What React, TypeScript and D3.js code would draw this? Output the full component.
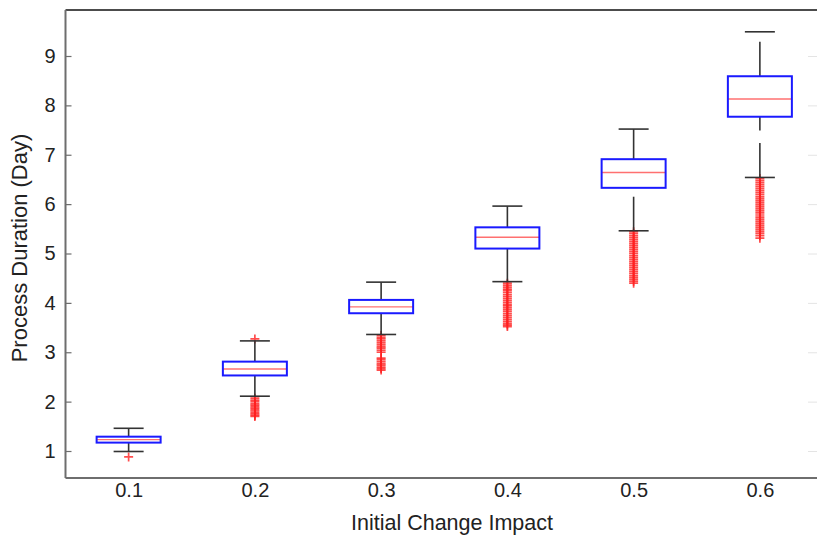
import React, { useEffect, useRef } from 'react';
import * as d3 from 'd3';

// box statistics (Process Duration in days)
const impacts = [0.1, 0.2, 0.3, 0.4, 0.5, 0.6];
const whiskerLow = [0.99, 2.11, 3.36, 4.43, 5.46, 6.54];
const quartile1 = [1.17, 2.53, 3.79, 5.1, 6.33, 7.77];
const medians = [1.23, 2.66, 3.92, 5.33, 6.64, 8.13];
const quartile3 = [1.29, 2.81, 4.06, 5.53, 6.91, 8.59];
const whiskerHigh = [1.46, 3.23, 4.42, 5.96, 7.52, 9.49];
// parts of the whisker stems that are not drawn in the reference
const whiskerGaps: number[][][] = [
  [],
  [],
  [],
  [],
  [[6.15, 6.33]],
  [[7.24, 7.49], [9.29, 9.49]],
];
const outliers: number[][] = [
  [0.88],
  [3.27, 2.07, 2.03, 2.0, 1.96, 1.93, 1.9, 1.87, 1.84, 1.81, 1.78, 1.75, 1.72, 1.7],
  [3.34, 3.3, 3.27, 3.23, 3.19, 3.15, 3.11, 3.08, 3.04, 3.0, 2.88, 2.85, 2.81, 2.77, 2.74, 2.7, 2.67, 2.64],
  [4.4, 4.36, 4.32, 4.28, 4.25, 4.21, 4.17, 4.13, 4.09, 4.05, 4.01, 3.97, 3.94, 3.9, 3.86, 3.82, 3.78, 3.74, 3.7, 3.66, 3.62, 3.58, 3.55, 3.52],
  [5.44, 5.4, 5.36, 5.32, 5.28, 5.24, 5.2, 5.16, 5.12, 5.08, 5.04, 5.0, 4.96, 4.92, 4.88, 4.84, 4.8, 4.76, 4.72, 4.68, 4.64, 4.6, 4.56, 4.52, 4.48, 4.44, 4.4],
  [6.52, 6.48, 6.44, 6.4, 6.36, 6.32, 6.28, 6.24, 6.2, 6.16, 6.12, 6.08, 6.04, 6.0, 5.96, 5.92, 5.88, 5.84, 5.8, 5.76, 5.72, 5.68, 5.64, 5.6, 5.56, 5.52, 5.48, 5.44, 5.4, 5.36, 5.31],
];
const yTicks = [1, 2, 3, 4, 5, 6, 7, 8, 9];

const FONT = '"Liberation Sans", Arial, Helvetica, sans-serif';

// cut a [a,b] stem into pieces that skip the gaps
const splitStem = (a: number, b: number, gaps: number[][]) => {
  let pieces = [[a, b]];
  gaps.forEach(([g0, g1]) => {
    const next: number[][] = [];
    pieces.forEach(([p0, p1]) => {
      if (g1 <= p0 || g0 >= p1) { next.push([p0, p1]); return; }
      if (g0 > p0) next.push([p0, g0]);
      if (g1 < p1) next.push([g1, p1]);
    });
    pieces = next;
  });
  return pieces;
};

const App = () => {
  const ref = useRef<SVGSVGElement | null>(null);

  useEffect(() => {
    const svg = d3.select(ref.current);
    svg.selectAll('*').remove();

    const width = 817;
    const height = 536;
    const left = 65.5;
    const top = 10;
    const bottom = 478;

    const x = d3.scaleLinear().domain([0.05, 0.65]).range([left, 823]);
    const y = d3.scaleLinear().domain([1, 9]).range([451, 56]);

    svg.append('rect').attr('width', width).attr('height', height).attr('fill', '#fff');

    // frame: black top line, grey left / bottom axes
    svg.append('line')
      .attr('x1', left).attr('x2', width).attr('y1', top).attr('y2', top)
      .attr('stroke', '#111').attr('stroke-width', 1.6);

    // faint right-side ticks
    svg.append('g')
      .attr('transform', `translate(808,0)`)
      .call(d3.axisRight(y).tickValues(yTicks).tickSize(9).tickFormat(() => ''))
      .call(g => g.select('.domain').remove())
      .call(g => g.selectAll('line').attr('stroke', '#e4e4e4'));

    const yAxis = svg.append('g')
      .attr('transform', `translate(${left},0)`)
      .call(d3.axisLeft(y).tickValues(yTicks).tickSizeInner(-6).tickSizeOuter(0).tickPadding(10).tickFormat(d3.format('d')));
    yAxis.select('.domain').attr('d', `M0,${top}V${bottom}`).attr('stroke', '#6e6e6e').attr('stroke-width', 2);
    yAxis.selectAll('line').attr('stroke', '#6e6e6e').attr('stroke-width', 1.2);
    yAxis.selectAll('text').attr('font-family', FONT).attr('font-size', 20).attr('fill', '#222');

    const xAxis = svg.append('g')
      .attr('transform', `translate(0,${bottom})`)
      .call(d3.axisBottom(x).tickValues(impacts).tickSize(0).tickPadding(5).tickFormat(d3.format('.1f')));
    xAxis.select('.domain').attr('d', `M${left},0H${width}`).attr('stroke', '#6e6e6e').attr('stroke-width', 2);
    xAxis.selectAll('text').attr('font-family', FONT).attr('font-size', 20).attr('fill', '#222');

    // axis titles
    svg.append('text')
      .attr('x', 452).attr('y', 530)
      .attr('text-anchor', 'middle')
      .attr('font-family', FONT).attr('font-size', 21.5).attr('fill', '#222')
      .text('Initial Change Impact');

    svg.append('text')
      .attr('transform', 'translate(27,248) rotate(-90)')
      .attr('text-anchor', 'middle')
      .attr('font-family', FONT).attr('font-size', 22).attr('fill', '#222')
      .text('Process Duration (Day)');

    const boxHalf = 32;
    const capHalf = 15;

    impacts.forEach((imp, i) => {
      const cx = x(imp);
      const g = svg.append('g');

      // outliers as + markers
      outliers[i].forEach(v => {
        g.append('path')
          .attr('d', `M${cx - 4.5},${y(v)}H${cx + 4.5}M${cx},${y(v) - 4.5}V${y(v) + 4.5}`)
          .attr('stroke', '#ff2020').attr('stroke-opacity', 0.8).attr('stroke-width', 1.7)
          .attr('fill', 'none');
      });

      // whisker stems
      const stems = [
        ...splitStem(whiskerLow[i], quartile1[i], whiskerGaps[i]),
        ...splitStem(quartile3[i], whiskerHigh[i], whiskerGaps[i]),
      ];
      stems.forEach(([a, b]) => {
        g.append('line')
          .attr('x1', cx).attr('x2', cx).attr('y1', y(a)).attr('y2', y(b))
          .attr('stroke', '#333').attr('stroke-width', 1.6);
      });

      // caps
      [whiskerLow[i], whiskerHigh[i]].forEach(v => {
        g.append('line')
          .attr('x1', cx - capHalf).attr('x2', cx + capHalf).attr('y1', y(v)).attr('y2', y(v))
          .attr('stroke', '#333').attr('stroke-width', 1.6);
      });

      // median
      g.append('line')
        .attr('x1', cx - boxHalf).attr('x2', cx + boxHalf).attr('y1', y(medians[i])).attr('y2', y(medians[i]))
        .attr('stroke', '#ff7070').attr('stroke-width', 1.4);

      // box
      g.append('rect')
        .attr('x', cx - boxHalf).attr('y', y(quartile3[i]))
        .attr('width', boxHalf * 2).attr('height', y(quartile1[i]) - y(quartile3[i]))
        .attr('fill', 'none').attr('stroke', '#1a1aff').attr('stroke-width', 2);
    });
  }, []);

  return (
    <svg
      ref={ref}
      width={817}
      height={536}
      style={{ position: 'absolute', left: 0, top: 0, display: 'block' }}
    />
  );
};

export default App;
